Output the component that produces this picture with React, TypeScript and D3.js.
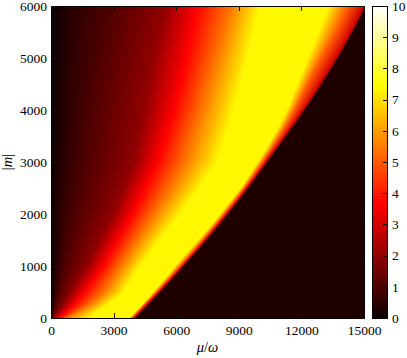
import React, { useEffect, useRef } from 'react';
import * as d3 from 'd3';

// canvas + plot box
const W = 407;
const H = 358;
const plot = { left: 51, top: 6, right: 364, bottom: 318 };
const bar = { left: 372, right: 387 };

const muTicks = [0, 3000, 6000, 9000, 12000, 15000];
const mTicks = [0, 1000, 2000, 3000, 4000, 5000, 6000];
const barTicks = [0, 1, 2, 3, 4, 5, 6, 7, 8, 9, 10];

// rows of the map (|m|) and, for each row, the mu/omega where the field
// crosses a given level
const mRows = [0, 250, 500, 750, 1000, 1250, 1500, 1750, 2000, 2250, 2500, 2750, 3000,
  3250, 3500, 3750, 4000, 4250, 4500, 4750, 5000, 5250, 5500, 5750, 6000];
const halfLevel = [0, 110, 180, 250, 310, 340, 370, 400, 440, 480, 520, 560, 600,
  640, 680, 720, 770, 810, 850, 890, 930, 960, 990, 1020, 1050];
const oneLevel = [60, 220, 380, 500, 650, 760, 880, 1000, 1130, 1280, 1420, 1530, 1650,
  1720, 1790, 1860, 1930, 2020, 2110, 2210, 2310, 2440, 2560, 2690, 2800];
const twoLevel = [110, 580, 950, 1320, 1720, 2030, 2330, 2640, 2950, 3200, 3450, 3700, 3950,
  4070, 4190, 4310, 4430, 4530, 4630, 4740, 4850, 5000, 5150, 5300, 5450];
const redEdge = [400, 1100, 1600, 2050, 2500, 2850, 3200, 3550, 3900, 4200, 4500, 4800, 5100,
  5300, 5500, 5700, 5900, 6050, 6200, 6350, 6500, 6630, 6750, 6880, 7000];
const orangeEdge = [800, 1900, 2600, 3000, 3400, 3800, 4200, 4600, 5000, 5400, 5800, 6150, 6500,
  6700, 6900, 7100, 7300, 7480, 7650, 7830, 8000, 8180, 8350, 8520, 8700];
const ridgeStart = [1800, 2700, 3500, 3900, 4300, 4750, 5200, 5700, 6200, 6650, 7100, 7550, 7950,
  8200, 8400, 8600, 8780, 8950, 9100, 9270, 9420, 9570, 9720, 9860, 10000];
const ridgeEnd = [3750, 4350, 4900, 5450, 5950, 6500, 7050, 7600, 8100, 8600, 9100, 9500, 9900,
  10300, 10650, 11000, 11300, 11550, 11800, 12050, 12300, 12550, 12800, 13050, 13300];
const fallOff = [3870, 4460, 5050, 5620, 6180, 6730, 7270, 7790, 8300, 8790, 9260, 9710, 10140,
  10560, 10960, 11340, 11680, 12000, 12320, 12640, 12980, 13330, 13670, 13970, 14250];
const cutoff = [3980, 4580, 5170, 5740, 6300, 6850, 7390, 7910, 8420, 8910, 9390, 9850, 10300,
  10750, 11200, 11650, 12080, 12500, 12900, 13290, 13670, 14030, 14370, 14700, 15000];
// field value at each of the crossings above
const levels = [0.5, 1, 2, 3.65, 5.5, 7.35, 7.35, 5, 3];
const darkValue = 0.3;
const contours = [halfLevel, oneLevel, twoLevel, redEdge, orangeEdge, ridgeStart, ridgeEnd, fallOff, cutoff];

// matplotlib "hot"
function hot(v: number) {
  const t = Math.max(0, Math.min(1, v / 10));
  const r = Math.min(1, 0.0416 + (0.9584 * t) / 0.365079);
  const g = Math.max(0, Math.min(1, (t - 0.365079) / (0.746032 - 0.365079)));
  const b = Math.max(0, Math.min(1, (t - 0.746032) / (1 - 0.746032)));
  return d3.rgb(r * 255, g * 255, b * 255).formatHex();
}

const serif = "'Liberation Serif', 'Times New Roman', serif";

export default function App() {
  const axesRef = useRef<SVGGElement>(null);

  const x = d3.scaleLinear().domain([0, 15000]).range([plot.left, plot.right]);
  const y = d3.scaleLinear().domain([0, 6000]).range([plot.bottom, plot.top]);
  const c = d3.scaleLinear().domain([0, 10]).range([plot.bottom, plot.top]);
  const plotW = plot.right - plot.left;
  const fmt = d3.format('d');

  useEffect(() => {
    const g = d3.select(axesRef.current);
    g.selectAll('*').remove();

    const style = (sel: any, labels: boolean) => {
      sel.attr('font-family', null).attr('font-size', null);
      sel.select('.domain').remove();
      sel.selectAll('line').attr('stroke', '#111').attr('shape-rendering', 'crispEdges');
      sel.selectAll('text').style('font-family', serif).style('font-size', '13.5px').attr('fill', '#000');
      if (!labels) sel.selectAll('text').remove();
    };

    g.append('g').attr('transform', `translate(0,${plot.bottom})`)
      .call(d3.axisBottom(x).tickValues(muTicks).tickFormat(fmt).tickSizeInner(-5).tickSizeOuter(0).tickPadding(7))
      .call((s: any) => style(s, true));
    g.append('g').attr('transform', `translate(0,${plot.top})`)
      .call(d3.axisTop(x).tickValues(muTicks).tickSizeInner(-5).tickSizeOuter(0))
      .call((s: any) => style(s, false));
    g.append('g').attr('transform', `translate(${plot.left},0)`)
      .call(d3.axisLeft(y).tickValues(mTicks).tickFormat(fmt).tickSizeInner(-5).tickSizeOuter(0).tickPadding(4))
      .call((s: any) => style(s, true));
    g.append('g').attr('transform', `translate(${plot.right},0)`)
      .call(d3.axisRight(y).tickValues(mTicks).tickSizeInner(-5).tickSizeOuter(0))
      .call((s: any) => style(s, false));
    g.append('g').attr('transform', `translate(${bar.right},0)`)
      .call(d3.axisRight(c).tickValues(barTicks).tickFormat(fmt).tickSizeInner(-4).tickSizeOuter(0).tickPadding(5))
      .call((s: any) => style(s, true));
  }, []);

  // one thin strip per screen row; crossings are taken between the two nearest read rows
  const strips = d3.range(plot.top, plot.bottom).map((py) => {
    const m = Math.max(0, Math.min(6000, y.invert(py + 0.5)));
    const i = Math.min(mRows.length - 2, d3.bisectRight(mRows, m) - 1);
    const t = (m - mRows[i]) / (mRows[i + 1] - mRows[i]);
    const pos = contours.map((arr) => arr[i] + (arr[i + 1] - arr[i]) * t);
    const stops: [number, number][] = [[0, i === 0 && t < 0.3 ? 0.3 : 0]];
    pos.forEach((mu, k) => stops.push([mu, levels[k]]));
    stops.push([pos[pos.length - 1] + 100, darkValue], [15000, darkValue]);
    return { py, stops };
  });

  return (
    <svg width={W} height={H} style={{ position: 'absolute', left: 0, top: 0, background: '#fff' }}>
      <defs>
        {strips.map((s, i) => (
          <linearGradient key={i} id={`strip${i}`} gradientUnits="userSpaceOnUse"
            x1={x(0)} x2={x(15000)} y1={0} y2={0}>
            {s.stops.map(([mu, v], j) => (
              <stop key={j} offset={Math.min(1, (x(mu) - plot.left) / plotW)} stopColor={hot(v)} />
            ))}
          </linearGradient>
        ))}
        <linearGradient id="barGrad" x1="0" y1="1" x2="0" y2="0">
          {[0, 3.65079, 7.46032, 10].map((v) => (
            <stop key={v} offset={v / 10} stopColor={hot(v)} />
          ))}
        </linearGradient>
      </defs>

      <g shapeRendering="crispEdges">
        {strips.map((s, i) => (
          <rect key={i} x={plot.left} y={s.py} width={plotW} height={1.02} fill={`url(#strip${i})`} />
        ))}
      </g>
      <rect x={plot.left} y={plot.top} width={plotW} height={plot.bottom - plot.top}
        fill="none" stroke="#000" strokeWidth={1} shapeRendering="crispEdges" />

      <rect x={bar.left} y={plot.top} width={bar.right - bar.left} height={plot.bottom - plot.top}
        fill="url(#barGrad)" stroke="#000" strokeWidth={1} shapeRendering="crispEdges" />

      <g ref={axesRef} />

      <text x={(plot.left + plot.right) / 2} y={352} textAnchor="middle" style={{ fontFamily: serif, fontSize: '14.5px' }}>
        <tspan fontStyle="italic">μ</tspan>/<tspan fontStyle="italic">ω</tspan>
      </text>
      <text transform={`translate(12,${(plot.top + plot.bottom) / 2}) rotate(-90)`} textAnchor="middle"
        style={{ fontFamily: serif, fontSize: '14.5px' }}>
        |<tspan fontStyle="italic">m</tspan>|
      </text>
    </svg>
  );
}
